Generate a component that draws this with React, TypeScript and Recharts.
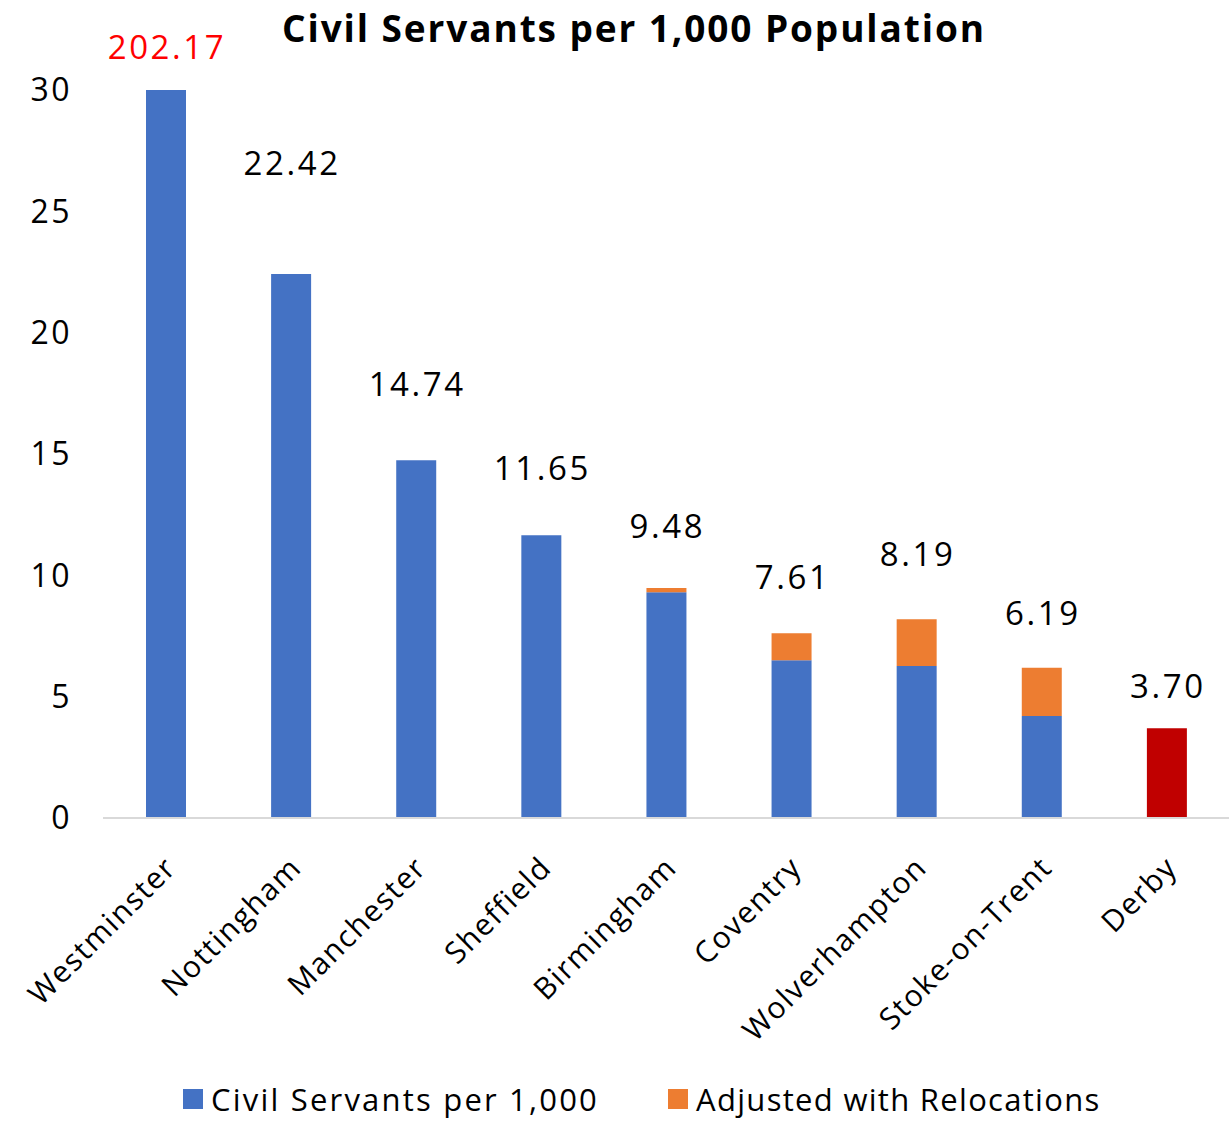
import { BarChart, Bar, XAxis, YAxis, Cell, LabelList, Legend } from 'recharts';

// civil servants per 1,000 residents, by local authority
const cities = [
  'Westminster',
  'Nottingham',
  'Manchester',
  'Sheffield',
  'Birmingham',
  'Coventry',
  'Wolverhampton',
  'Stoke-on-Trent',
  'Derby',
];
const perThousand = [202.17, 22.42, 14.74, 11.65, 9.3, 6.5, 6.26, 4.2, 3.7];
const relocations = [0, 0, 0, 0, 0.18, 1.11, 1.93, 1.99, 0];
const yTicks = [0, 5, 10, 15, 20, 25, 30];

// how far each total label sits above its bar (px)
const labelLift = [43, 110, 76, 67, 62, 56, 65, 54, 42];

const BLUE = '#4472C4';
const ORANGE = '#ED7D31';
const DERBY_RED = '#C00000';
const FONT = '"Open Sans", Lato, sans-serif';
const PLOT_TOP = 90;

const data = cities.map((name, i) => ({
  name,
  base: perThousand[i],
  extra: relocations[i],
  total: perThousand[i] + relocations[i],
}));

const CityTick = (props: any) => {
  const { x, y, payload } = props;
  const ax = x + 5;
  const ay = y + 44;
  return (
    <text
      x={ax}
      y={ay}
      dy="0.35em"
      textAnchor="end"
      transform={`rotate(-45, ${ax}, ${ay})`}
      fontFamily={FONT}
      fontSize={30}
      letterSpacing={1.5}
      fill="#000"
    >
      {payload.value}
    </text>
  );
};

// sits on the blue segment; lifts itself past any orange segment using the bar's own px/unit
const TotalLabel = (props: any) => {
  const { x, y, width, height, index } = props;
  const d = data[index];
  const pxPerUnit = Number(height) / d.base;
  const stackTop = Number(y) - d.extra * pxPerUnit;
  const top = Math.max(stackTop, PLOT_TOP);
  return (
    <text
      x={Number(x) + Number(width) / 2 + 1}
      y={top - labelLift[index]}
      dy="0.35em"
      textAnchor="middle"
      fontFamily={FONT}
      fontSize={33}
      letterSpacing={2.6}
      fill={index === 0 ? '#FF0000' : '#000'}
    >
      {d.total.toFixed(2)}
    </text>
  );
};

const legendItems = [
  { label: 'Civil Servants per 1,000', color: BLUE, spacing: 2.2 },
  { label: 'Adjusted with Relocations', color: ORANGE, spacing: 1.3 },
];

const LegendRow = () => (
  <div style={{ display: 'flex', alignItems: 'center', paddingLeft: 183, fontFamily: FONT, fontSize: 31 }}>
    {legendItems.map((item, i) => (
      <div key={item.label} style={{ display: 'flex', alignItems: 'center', marginRight: i === 0 ? 69 : 0 }}>
        <span style={{ width: 20, height: 20, background: item.color, marginRight: 8, display: 'inline-block' }} />
        <span style={{ color: '#000', whiteSpace: 'nowrap', letterSpacing: item.spacing }}>{item.label}</span>
      </div>
    ))}
  </div>
);

export default function App() {
  return (
    <div style={{ position: 'absolute', left: 0, top: 0, width: 1229, height: 1121, background: '#fff' }}>
      <div
        style={{
          position: 'absolute',
          left: 0,
          top: 2,
          width: 1268,
          textAlign: 'center',
          fontFamily: FONT,
          fontWeight: 700,
          fontSize: 37,
          letterSpacing: 1.9,
          color: '#000',
          zIndex: 2,
        }}
      >
        Civil Servants per 1,000 Population
      </div>
      <BarChart
        width={1229}
        height={1121}
        data={data}
        margin={{ top: PLOT_TOP, right: 0, bottom: 302, left: 0 }}
        barSize={40}
      >
        <XAxis
          dataKey="name"
          interval={0}
          tickLine={false}
          tickSize={0}
          tickMargin={0}
          axisLine={{ stroke: '#D9D9D9', strokeWidth: 2 }}
          tick={<CityTick />}
          height={1}
        />
        <YAxis
          width={103}
          domain={[0, 30]}
          ticks={yTicks}
          allowDataOverflow
          axisLine={false}
          tickLine={false}
          tickSize={0}
          tickMargin={31}
          tick={{ fontFamily: FONT, fontSize: 32, fill: '#000', letterSpacing: 2.5 }}
        />
        <Legend
          layout="horizontal"
          verticalAlign="middle"
          align="center"
          wrapperStyle={{ top: 1078, left: 0, width: 1229 }}
          content={<LegendRow />}
        />
        <Bar dataKey="base" stackId="a" fill={BLUE} isAnimationActive={false}>
          {data.map((d, i) => (
            <Cell key={d.name} fill={d.name === 'Derby' ? DERBY_RED : BLUE} />
          ))}
          <LabelList dataKey="total" content={<TotalLabel />} />
        </Bar>
        <Bar dataKey="extra" stackId="a" fill={ORANGE} isAnimationActive={false} />
      </BarChart>
    </div>
  );
}
